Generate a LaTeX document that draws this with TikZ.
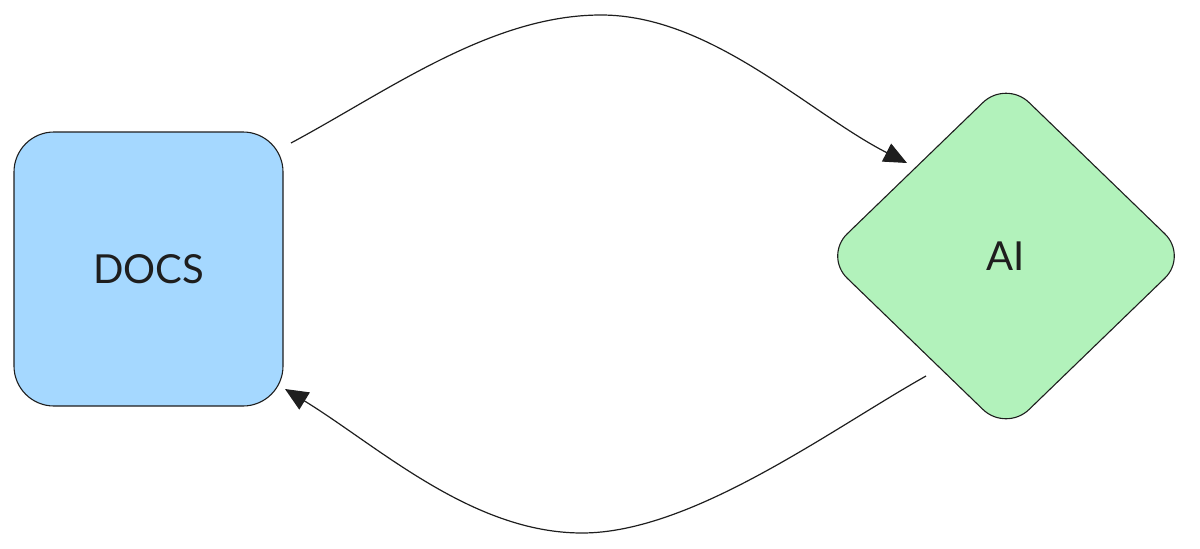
\documentclass[tikz,border=0pt]{standalone}
\usepackage{fontspec}
\setmainfont{Lato}
\usetikzlibrary{arrows.meta,shapes.geometric}
\definecolor{docsblue}{HTML}{A5D8FF}
\definecolor{aigreen}{HTML}{B2F2BB}
\definecolor{ink}{HTML}{1E1E1E}
\tikzset{
  boxnode/.style={draw=ink, line width=1.1pt, fill=docsblue, rounded corners=40pt,
    minimum width=269pt, minimum height=274pt, inner sep=0pt, text=ink,
    font=\fontsize{40}{44}\selectfont},
  dianode/.style={draw=ink, line width=1.1pt, fill=aigreen, diamond, rounded corners=32pt,
    minimum width=364pt, minimum height=352pt, inner sep=0pt, text=ink,
    font=\fontsize{40}{44}\selectfont},
  flow/.style={draw=ink, line width=1.2pt, -{Triangle[length=23pt,width=20pt]}},
}
\begin{document}
\begin{tikzpicture}[x=1pt,y=-1pt]
\useasboundingbox (0,0) rectangle (1200,549);
\node[boxnode] (docs) at (148.5,269) {DOCS};
\node[dianode] (ai) at (1006,256) {AI};
\coordinate (s1) at (291,143);
\coordinate (m1) at (601,15);
\coordinate (e1) at (907,163);
\coordinate (s2) at (926,376);
\coordinate (m2) at (582,533);
\coordinate (e2) at (285,389);
\draw[flow] (s1) .. controls (388,91) and (491,15) .. (m1)
  .. controls (711,15) and (809,113) .. (e1);
\draw[flow] (s2) .. controls (830,430) and (692,533) .. (m2)
  .. controls (472,533) and (378,446) .. (e2);
\end{tikzpicture}
\end{document}
